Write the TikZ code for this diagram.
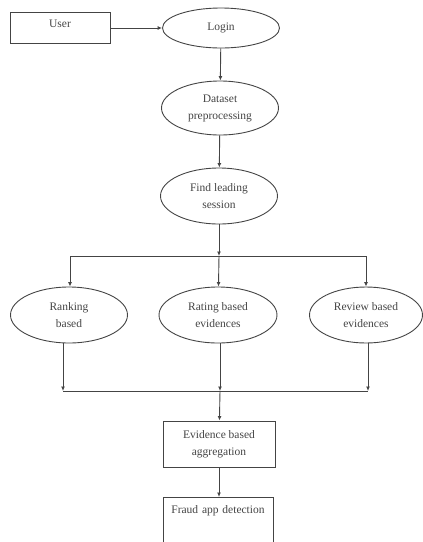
\documentclass[tikz,border=0pt]{standalone}
\usepackage{fontspec}
\setmainfont{Liberation Serif}
\usetikzlibrary{shapes.geometric,arrows.meta}
\definecolor{ink}{HTML}{444444}
\tikzset{
  base/.style={draw=ink, line width=0.9pt, text=ink, inner sep=0pt, align=center,
    font=\fontsize{11.5}{17}\selectfont},
  oval/.style={base, ellipse},
  boxnode/.style={base, rectangle},
  conn/.style={draw=ink, line width=0.9pt, -{Latex[length=4.5pt,width=4pt]}},
  plain/.style={draw=ink, line width=0.9pt}
}
\begin{document}
\begin{tikzpicture}[x=1pt,y=-1pt]
\useasboundingbox (0,0) rectangle (423,542);
\begin{scope}
\clip (0,0) rectangle (423,542);
\node[boxnode, text width=100pt, text height=15pt, text depth=16pt, anchor=north] (user) at (60,12) {User};
\node[oval, minimum width=117pt, minimum height=40pt] (login) at (221,28) {Login};
\node[oval, minimum width=117pt, minimum height=54pt] (data) at (220,108) {Dataset\\preprocessing};
\node[oval, minimum width=117pt, minimum height=56pt] (sess) at (219,196) {Find leading\\session};
\node[oval, minimum width=117pt, minimum height=56pt] (rank) at (69,315) {Ranking\\based};
\node[oval, minimum width=118pt, minimum height=56pt] (rate) at (218,315) {Rating based\\evidences};
\node[oval, minimum width=113pt, minimum height=56pt] (rev) at (366,315) {Review based\\evidences};
\node[boxnode, minimum width=112pt, minimum height=46pt] (evid) at (219,444) {Evidence based\\aggregation};
\node[boxnode, text width=110pt, text height=16pt, text depth=36pt, anchor=north] (fraud) at (218,497) {Fraud app detection};

\coordinate (j1) at (219,256);
\coordinate (t1) at (70,256);
\coordinate (t3) at (366,256);
\coordinate (b1) at (63,391);
\coordinate (b2) at (220,391);
\coordinate (b3) at (368,391);

\draw[conn] (user.east |- login) -- (login);
\draw[conn] (login) -- (data);
\draw[conn] (data) -- (sess);
\draw[conn] (sess) -- (j1);
\draw[plain] (t1) -- (t3);
\draw[conn] (t1) -- (t1 |- rank.north);
\draw[conn] (j1) -- (rate);
\draw[conn] (t3) -- (t3 |- rev.north);
\draw[conn] (b1 |- rank.south) -- (b1);
\draw[conn] (b2 |- rate.south) -- (b2);
\draw[conn] (b3 |- rev.south) -- (b3);
\draw[plain] (b1) -- (b3);
\draw[conn] (b2) -- (evid);
\draw[conn] (evid) -- (evid.south |- fraud.north);
\end{scope}
\end{tikzpicture}
\end{document}
